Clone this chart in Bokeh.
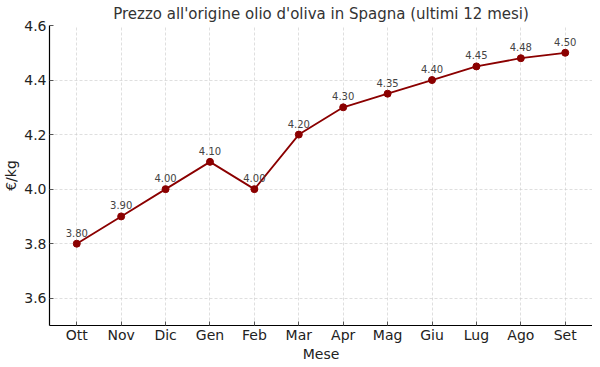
from bokeh.plotting import figure
from bokeh.models import ColumnDataSource, FixedTicker, Range1d, FactorRange, LabelSet, PrintfTickFormatter
from bokeh.core.properties import value
from bokeh.embed import file_html
from bokeh.resources import INLINE

months = ["Ott", "Nov", "Dic", "Gen", "Feb", "Mar", "Apr", "Mag", "Giu", "Lug", "Ago", "Set"]
prices = [3.80, 3.90, 4.00, 4.10, 4.00, 4.20, 4.30, 4.35, 4.40, 4.45, 4.48, 4.50]
y_ticks = [3.6, 3.8, 4.0, 4.2, 4.4, 4.6]

src = ColumnDataSource(dict(m=months, v=prices, t=[f"{v:.2f}" for v in prices]))

FONT = "DejaVu Sans"
p = figure(frame_width=543, frame_height=300, output_backend="svg", toolbar_location=None,
           x_range=FactorRange(*months, range_padding=0.114, range_padding_units="absolute"),
           y_range=Range1d(3.5, 4.6),
           title="Prezzo all'origine olio d'oliva in Spagna (ultimi 12 mesi)",
           min_border_left=0, min_border_right=0, min_border_bottom=0, min_border_top=0)

p.title.align = "center"
p.title.text_font = FONT
p.title.text_font_size = "15px"
p.title.text_font_style = "normal"
p.title.text_color = "#333333"
p.title.standoff = 5
p.title.offset = 0
p.outline_line_color = None

p.line("m", "v", source=src, line_color="#8B0000", line_width=1.8)
p.scatter("m", "v", source=src, size=7, fill_color="#8B0000", line_color="#8B0000")

labels = LabelSet(x="m", y="v", text="t", source=src, x_offset=0, y_offset=7,
                  text_align="center", text_baseline="bottom",
                  text_font=value(FONT), text_font_size=value("10px"), text_color="#444444")
p.add_layout(labels)

p.yaxis.ticker = FixedTicker(ticks=y_ticks)
p.yaxis.formatter = PrintfTickFormatter(format="%.1f")
for ax in (p.xaxis, p.yaxis):
    ax.axis_line_color = "black"
    ax.axis_line_width = 1.2
    ax.major_tick_in = 4
    ax.major_tick_out = 0
    ax.minor_tick_line_color = None
    ax.major_tick_line_color = "#555555"
    ax.major_label_text_font = FONT
    ax.major_label_text_font_size = "14px"
    ax.major_label_text_color = "#222222"
    ax.axis_label_text_font = FONT
    ax.axis_label_text_font_size = "14px"
    ax.axis_label_text_font_style = "normal"
    ax.axis_label_text_color = "#222222"
p.xaxis.major_label_standoff = 1
p.yaxis.major_label_standoff = 3
p.xaxis.axis_label = "Mese"
p.yaxis.axis_label = "€/kg"
p.xaxis.axis_label_standoff = 0
p.yaxis.axis_label_standoff = 2

for g in (p.xgrid, p.ygrid):
    g.grid_line_color = "#cccccc"
    g.grid_line_dash = "3 2"
    g.grid_line_width = 0.8
    g.grid_line_alpha = 0.8

open("out.html", "w").write(file_html(p, INLINE))
